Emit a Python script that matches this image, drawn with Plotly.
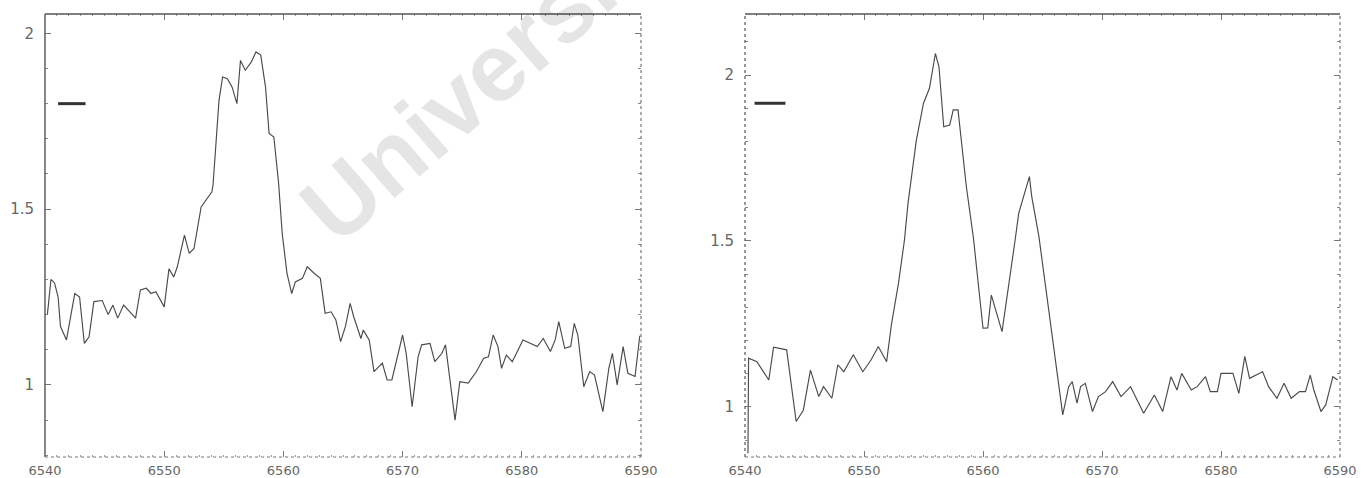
import plotly.graph_objects as go

# Spectrum 1 (left panel): wavelength (Angstrom) and normalised flux
wave_a = [6540.2, 6540.5, 6540.8, 6541.1, 6541.3, 6541.8, 6542.0, 6542.5, 6542.9, 6543.3,
          6543.7, 6544.1, 6544.8, 6545.3, 6545.7, 6546.1, 6546.6, 6547.1, 6547.6, 6548.0,
          6548.5, 6548.9, 6549.3, 6550.0, 6550.4, 6550.8, 6551.1, 6551.7, 6552.1, 6552.5,
          6553.1, 6554.0, 6554.1, 6554.6, 6554.9, 6555.3, 6555.7, 6556.1, 6556.4, 6556.8,
          6557.3, 6557.7, 6558.1, 6558.5, 6558.8, 6559.2, 6559.6, 6559.9, 6560.3, 6560.7,
          6561.0, 6561.6, 6562.0, 6562.6, 6563.1, 6563.5, 6564.0, 6564.4, 6564.8, 6565.2,
          6565.6, 6565.9, 6566.5, 6566.7, 6567.2, 6567.6, 6568.3, 6568.7, 6569.1, 6570.0,
          6570.3, 6570.8, 6571.3, 6571.6, 6572.3, 6572.7, 6573.3, 6573.6, 6573.9, 6574.4,
          6574.8, 6575.5, 6576.2, 6576.8, 6577.2, 6577.6, 6578.0, 6578.3, 6578.7, 6579.2,
          6580.1, 6581.3, 6581.8, 6582.4, 6582.8, 6583.1, 6583.6, 6584.1, 6584.4, 6584.7,
          6585.2, 6585.7, 6586.1, 6586.8, 6587.3, 6587.6, 6588.0, 6588.5, 6588.9, 6589.5,
          6589.9]
flux_a = [1.20, 1.30, 1.29, 1.25, 1.166, 1.128, 1.166, 1.26, 1.25, 1.118,
          1.137, 1.237, 1.24, 1.20, 1.227, 1.19, 1.227, 1.208, 1.19, 1.27,
          1.275, 1.26, 1.265, 1.222, 1.33, 1.307, 1.336, 1.426, 1.374, 1.388,
          1.506, 1.549, 1.57, 1.81, 1.876, 1.871, 1.847, 1.80, 1.923, 1.895,
          1.918, 1.947, 1.938, 1.847, 1.715, 1.705, 1.573, 1.431, 1.317, 1.26,
          1.293, 1.303, 1.336, 1.317, 1.303, 1.204, 1.208, 1.185, 1.123, 1.166,
          1.232, 1.194, 1.132, 1.156, 1.128, 1.038, 1.062, 1.014, 1.014, 1.142,
          1.09, 0.938, 1.08, 1.114, 1.118, 1.066, 1.09, 1.114, 1.033, 0.90,
          1.009, 1.005, 1.038, 1.076, 1.08, 1.142, 1.109, 1.047, 1.085, 1.066,
          1.128, 1.109, 1.132, 1.095, 1.128, 1.18, 1.104, 1.109, 1.175, 1.142,
          0.995, 1.038, 1.028, 0.924, 1.047, 1.09, 1.0, 1.109, 1.033, 1.024,
          1.14]

# Spectrum 2 (right panel)
wave_b = [6540.25, 6540.3, 6541.0, 6542.0, 6542.4, 6543.5, 6544.3, 6544.9, 6545.5, 6546.2,
          6546.6, 6547.3, 6547.8, 6548.3, 6549.1, 6549.9, 6550.6, 6551.2, 6551.9, 6552.3,
          6552.9, 6553.4, 6553.7, 6554.4, 6555.0, 6555.5, 6556.0, 6556.3, 6556.7, 6557.2,
          6557.5, 6557.9, 6558.6, 6559.2, 6560.0, 6560.4, 6560.7, 6561.6, 6562.7, 6563.0,
          6563.9, 6564.1, 6564.7, 6565.7, 6566.7, 6567.2, 6567.5, 6567.9, 6568.2, 6568.6,
          6569.2, 6569.7, 6570.3, 6570.9, 6571.6, 6572.4, 6573.5, 6574.4, 6575.1, 6575.8,
          6576.3, 6576.7, 6577.5, 6578.0, 6578.7, 6579.1, 6579.7, 6580.0, 6581.0, 6581.5,
          6582.0, 6582.4, 6583.5, 6584.0, 6584.7, 6585.3, 6585.9, 6586.6, 6587.1, 6587.5,
          6587.8, 6588.4, 6588.8, 6589.4, 6589.8]
flux_b = [0.86, 1.147, 1.136, 1.081, 1.18, 1.172, 0.956, 0.99, 1.111, 1.031,
          1.061, 1.026, 1.127, 1.106, 1.157, 1.106, 1.142, 1.182, 1.136, 1.247,
          1.373, 1.503, 1.614, 1.804, 1.915, 1.96, 2.065, 2.025, 1.844, 1.849,
          1.895, 1.895, 1.664, 1.508, 1.237, 1.238, 1.337, 1.227, 1.503, 1.583,
          1.694, 1.633, 1.513, 1.252, 0.976, 1.061, 1.076, 1.011, 1.061, 1.071,
          0.986, 1.031, 1.046, 1.076, 1.031, 1.061, 0.981, 1.036, 0.986, 1.091,
          1.051, 1.101, 1.051, 1.061, 1.091, 1.046, 1.046, 1.101, 1.101, 1.041,
          1.152, 1.086, 1.106, 1.061, 1.026, 1.071, 1.026, 1.046, 1.046, 1.096,
          1.051, 0.986, 1.006, 1.091, 1.081]

# Axis limits and labels
wave_range = [6540, 6590]
flux_range_a = [0.795, 2.055]
flux_range_b = [0.849, 2.184]
x_ticks = [6540, 6550, 6560, 6570, 6580, 6590]
y_ticks = [1, 1.5, 2]
y_tick_text = ["1", "1.5", "2"]

# Short reference bars drawn near the top-left of each panel
bar_a = {"x": [6541.1, 6543.4], "y": 1.80}
bar_b = {"x": [6540.8, 6543.4], "y": 1.915}

INK = "#4a4a4a"
LABEL = "#666666"

fig = go.Figure()
fig.add_trace(go.Scatter(x=wave_a, y=flux_a, mode="lines", xaxis="x", yaxis="y",
                         line=dict(color=INK, width=1.15), showlegend=False, hoverinfo="skip"))
fig.add_trace(go.Scatter(x=wave_b, y=flux_b, mode="lines", xaxis="x2", yaxis="y2",
                         line=dict(color=INK, width=1.15), showlegend=False, hoverinfo="skip"))

W, H = 1364, 478
left_dom = [45 / W, 641 / W]
right_dom = [745 / W, 1340 / W]
y_dom = [1 - 457 / H, 1 - 14 / H]

common_x = dict(range=wave_range, tickvals=x_ticks, ticks="inside", ticklen=6, tickwidth=1,
                tickcolor="#777", mirror="ticks", showline=False, showgrid=False, zeroline=False,
                automargin=False, ticklabelstandoff=4,
                minor=dict(dtick=1, ticks="inside", ticklen=2, tickcolor="#999", showgrid=False),
                tickfont=dict(family="DejaVu Sans", size=13, color=LABEL))
common_y = dict(tickvals=y_ticks, ticktext=y_tick_text, ticks="inside", ticklen=6, tickwidth=1,
                tickcolor="#777", mirror="ticks", showline=False, showgrid=False, zeroline=False,
                automargin=False, ticklabelstandoff=10,
                minor=dict(dtick=0.1, ticks="inside", ticklen=3, tickcolor="#888", showgrid=False),
                tickfont=dict(family="DejaVu Sans", size=15, color=LABEL))

fig.update_layout(
    width=W, height=H,
    margin=dict(l=0, r=0, t=0, b=0),
    paper_bgcolor="white", plot_bgcolor="white",
    xaxis=dict(domain=left_dom, anchor="y", **common_x),
    yaxis=dict(domain=y_dom, anchor="x", range=flux_range_a, **common_y),
    xaxis2=dict(domain=right_dom, anchor="y2", **common_x),
    yaxis2=dict(domain=y_dom, anchor="x2", range=flux_range_b, **common_y),
)

# Panel frames: solid top edge, dotted lower and right edges
def frame(xr, yr, left_style):
    edges = [
        ((0, 1), (1, 1), "solid", "#555", 1.4),
        ((0, 0), (0, 1), left_style, "#555", 1.4 if left_style == "solid" else 1.2),
        ((0, 0), (1, 0), "dot", "#777", 1.2),
        ((1, 0), (1, 1), "dot", "#777", 1.2),
    ]
    for (x0, y0), (x1, y1), dash, col, w in edges:
        fig.add_shape(type="line", xref=f"{xr} domain", yref=f"{yr} domain",
                      x0=x0, y0=y0, x1=x1, y1=y1, line=dict(color=col, width=w, dash=dash))

frame("x", "y", "solid")
frame("x2", "y2", "dot")

fig.add_shape(type="line", xref="x", yref="y", x0=bar_a["x"][0], x1=bar_a["x"][1],
              y0=bar_a["y"], y1=bar_a["y"], line=dict(color="#333", width=3))
fig.add_shape(type="line", xref="x2", yref="y2", x0=bar_b["x"][0], x1=bar_b["x"][1],
              y0=bar_b["y"], y1=bar_b["y"], line=dict(color="#333", width=3))

# Faint diagonal watermark running off the top of the left panel
fig.add_annotation(text="<b>University</b>", xref="paper", yref="paper",
                   x=490 / W, y=1 - 70 / H, xanchor="center", yanchor="middle",
                   showarrow=False, textangle=-41,
                   font=dict(family="Liberation Sans", size=96, color="rgba(0,0,0,0.10)"))

fig.write_html("out.html")
